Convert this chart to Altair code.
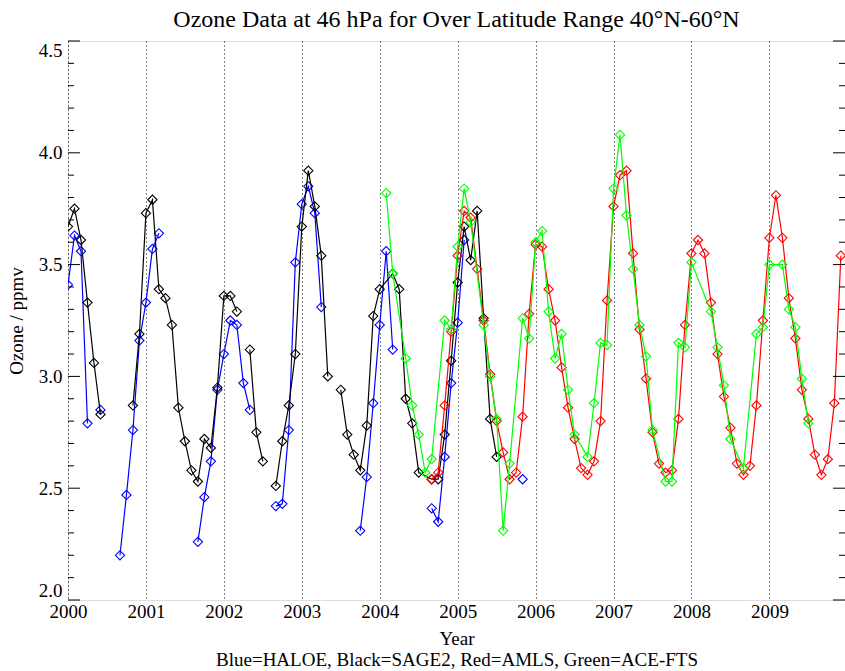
import altair as alt
import pandas as pd

# ---- data (month index counted from Jan 2000; year = 2000 + month/12) ----
haloe_month = [0, 1, 2, 3,
               5,
               8, 9, 10, 11, 12, 13, 14,
               20, 21, 22, 23, 24, 25, 26, 27, 28,
               32, 33, 34, 35, 36, 37, 38, 39,
               45, 46, 47, 48, 49, 50,
               56, 57, 58, 59, 60, 61,
               70]
haloe_ozone = [3.41, 3.63, 3.56, 2.79,
               2.85,
               2.20, 2.47, 2.76, 3.16, 3.33, 3.57, 3.64,
               2.26, 2.46, 2.62, 2.94, 3.10, 3.25, 3.23, 2.97, 2.85,
               2.42, 2.43, 2.76, 3.51, 3.77, 3.85, 3.73, 3.31,
               2.31, 2.55, 2.88, 3.23, 3.56, 3.12,
               2.41, 2.35, 2.64, 2.97, 3.24, 3.61,
               2.54]
haloe_seg = [0, 0, 0, 0,
             1,
             2, 2, 2, 2, 2, 2, 2,
             3, 3, 3, 3, 3, 3, 3, 3, 3,
             4, 4, 4, 4, 4, 4, 4, 4,
             5, 5, 5, 5, 5, 5,
             6, 6, 6, 6, 6, 6,
             7]

sage_month = [0, 1, 2, 3, 4, 5,
              10, 11, 12, 13, 14, 15, 16, 17, 18, 19, 20, 21, 22, 23, 24, 25, 26,
              28, 29, 30,
              32, 33, 34, 35, 36, 37, 38, 39, 40,
              42, 43, 44, 45, 46, 47, 48, 50, 51, 52, 53, 54, 56, 57, 58, 59, 60,
              61, 62, 63, 64, 65, 66]
sage_ozone = [3.67, 3.75, 3.61, 3.33, 3.06, 2.83,
              2.87, 3.19, 3.73, 3.79, 3.39, 3.35, 3.23, 2.86, 2.71, 2.58, 2.53,
              2.72, 2.68, 2.95, 3.36, 3.36, 3.29,
              3.12, 2.75, 2.62,
              2.51, 2.71, 2.87, 3.10, 3.67, 3.92, 3.76, 3.54, 3.00,
              2.94, 2.74, 2.65, 2.58, 2.78, 3.27, 3.39, 3.46, 3.39, 2.90, 2.79,
              2.57, 2.54, 2.54, 2.74, 3.07, 3.42, 3.67, 3.52, 3.74, 3.26, 2.81, 2.64]
sage_seg = [0] * 6 + [1] * 17 + [2] * 3 + [3] * 9 + [4] * 23

amls_month = list(range(56, 120))
amls_ozone = [2.54, 2.57, 2.87, 3.20, 3.54, 3.74, 3.71, 3.48, 3.25, 3.01,
              2.80, 2.66, 2.54, 2.57, 2.82, 3.28, 3.59, 3.58, 3.39, 3.25,
              3.04, 2.86, 2.72, 2.59, 2.56, 2.62, 2.80, 3.34, 3.76, 3.90,
              3.92, 3.55, 3.21, 2.99, 2.75, 2.61, 2.57, 2.58, 2.81, 3.23,
              3.55, 3.61, 3.55, 3.33, 3.10, 2.91, 2.77, 2.61, 2.56, 2.60,
              2.87, 3.25, 3.62, 3.81, 3.62, 3.35, 3.17, 2.94, 2.81, 2.65,
              2.56, 2.63, 2.88, 3.54]
amls_seg = [0] * len(amls_month)

ace_month = [49, 50, 52, 53, 54, 55, 56, 58, 59, 60, 61, 62, 64, 65, 66, 67, 68,
             70, 71, 72, 73, 74, 75, 76, 77, 78, 80, 81, 82, 83, 84, 85, 86, 87,
             88, 89, 90, 92, 93, 94, 95, 96, 99, 100, 101, 102, 104, 106, 107,
             108, 110, 111, 112, 113, 114]
ace_ozone = [3.82, 3.46, 3.08, 2.87, 2.74, 2.57, 2.63, 3.25, 3.21, 3.58, 3.84,
             3.69, 3.23, 3.00, 2.81, 2.31, 2.61,
             3.26, 3.17, 3.60, 3.65, 3.29, 3.08, 3.19, 2.94, 2.74, 2.64, 2.88,
             3.15, 3.14, 3.84, 4.08, 3.72, 3.48,
             3.23, 3.09, 2.76, 2.53, 2.53, 3.15, 3.13, 3.51, 3.29, 3.13, 2.96,
             2.72, 2.59, 3.19, 3.22,
             3.50, 3.50, 3.30, 3.22, 2.99, 2.79]
ace_seg = [0] * len(ace_month)

instruments = ["HALOE", "SAGE2", "AMLS", "ACE-FTS"]
inst_colors = ["#0000ff", "#000000", "#ff0000", "#00ff00"]

year_ticks = list(range(2000, 2010))
y_major = [2.0, 2.5, 3.0, 3.5, 4.0, 4.5]
y_minor = [round(2.0 + 0.1 * i, 1) for i in range(26) if i % 5 != 0]

title_text = "Ozone Data at 46 hPa for Over Latitude Range 40°N-60°N"
x_title = ["Year", "Blue=HALOE, Black=SAGE2, Red=AMLS, Green=ACE-FTS"]
y_title = "Ozone / ppmv"

# ---- build tables ----
series = {
    "HALOE": (haloe_month, haloe_ozone, haloe_seg),
    "SAGE2": (sage_month, sage_ozone, sage_seg),
    "AMLS": (amls_month, amls_ozone, amls_seg),
    "ACE-FTS": (ace_month, ace_ozone, ace_seg),
}

FONT = "Liberation Serif"
W, H = 777, 559

x_scale = alt.Scale(domain=[2000, 2009.97], nice=False, zero=False)
y_scale = alt.Scale(domain=[2.0, 4.5], nice=False, zero=False)

x_axis = alt.Axis(values=year_ticks, format="d", ticks=False, domain=False,
                  grid=True, gridColor="black", gridOpacity=1, gridWidth=1,
                  gridDash=[1, 3], labelFont=FONT, labelFontSize=19,
                  labelColor="black", labelPadding=2, labelFlush=False,
                  title=x_title, titleFont=FONT, titleFontSize=19,
                  titleFontWeight="normal", titleColor="black",
                  titleLineHeight=21, titleBaseline="alphabetic",
                  titleY=44, titleX=W / 2, titleAlign="center")
y_axis = alt.Axis(values=y_major, format=".1f", ticks=False, domain=False,
                  grid=False, labelFont=FONT, labelFontSize=19,
                  labelColor="black", labelPadding=6, labelFlush=True,
                  title=y_title, titleFont=FONT, titleFontSize=19,
                  titleFontWeight="normal", titleColor="black",
                  titleAngle=270, titleBaseline="alphabetic",
                  titleX=-46, titleY=H / 2, titleAlign="center")

x_enc = alt.X("year:Q", scale=x_scale, axis=x_axis)
y_enc = alt.Y("ozone:Q", scale=y_scale, axis=y_axis)

layers = []
for name, col in zip(instruments, inst_colors):
    months, vals, segs = series[name]
    df = pd.DataFrame({
        "year": [2000 + m / 12 for m in months],
        "ozone": vals,
        "seg": [f"{name}-{s}" for s in segs],
    })
    base = alt.Chart(df).encode(x=x_enc, y=y_enc)
    layers.append(base.mark_line(color=col, strokeWidth=1.2, clip=True)
                  .encode(detail="seg:N", order="year:Q"))
    layers.append(base.mark_point(shape="diamond", size=85, filled=False,
                                  color=col, strokeWidth=1.1, opacity=1,
                                  clip=True))

major_df = pd.DataFrame({"ozone": y_major})
minor_df = pd.DataFrame({"ozone": y_minor})
for dfx, ln in [(major_df, 12), (minor_df, 6)]:
    layers.append(alt.Chart(dfx).mark_rule(color="black", strokeWidth=1)
                  .encode(y=y_enc, x=alt.value(0), x2=alt.value(ln)))
    layers.append(alt.Chart(dfx).mark_rule(color="black", strokeWidth=1)
                  .encode(y=y_enc, x=alt.value(W), x2=alt.value(W - ln)))

chart = alt.layer(*layers).properties(
    width=W, height=H,
    title=alt.TitleParams(text=title_text, font=FONT, fontSize=24,
                          fontWeight="normal", color="black",
                          anchor="middle", offset=9),
    autosize=alt.AutoSizeParams(type="none"),
    padding={"left": 68, "top": 41, "right": 0, "bottom": 71},
).configure_view(stroke="black", strokeWidth=1).configure(background="white")

chart.save("out.html", embed_options={"renderer": "svg", "actions": False})
